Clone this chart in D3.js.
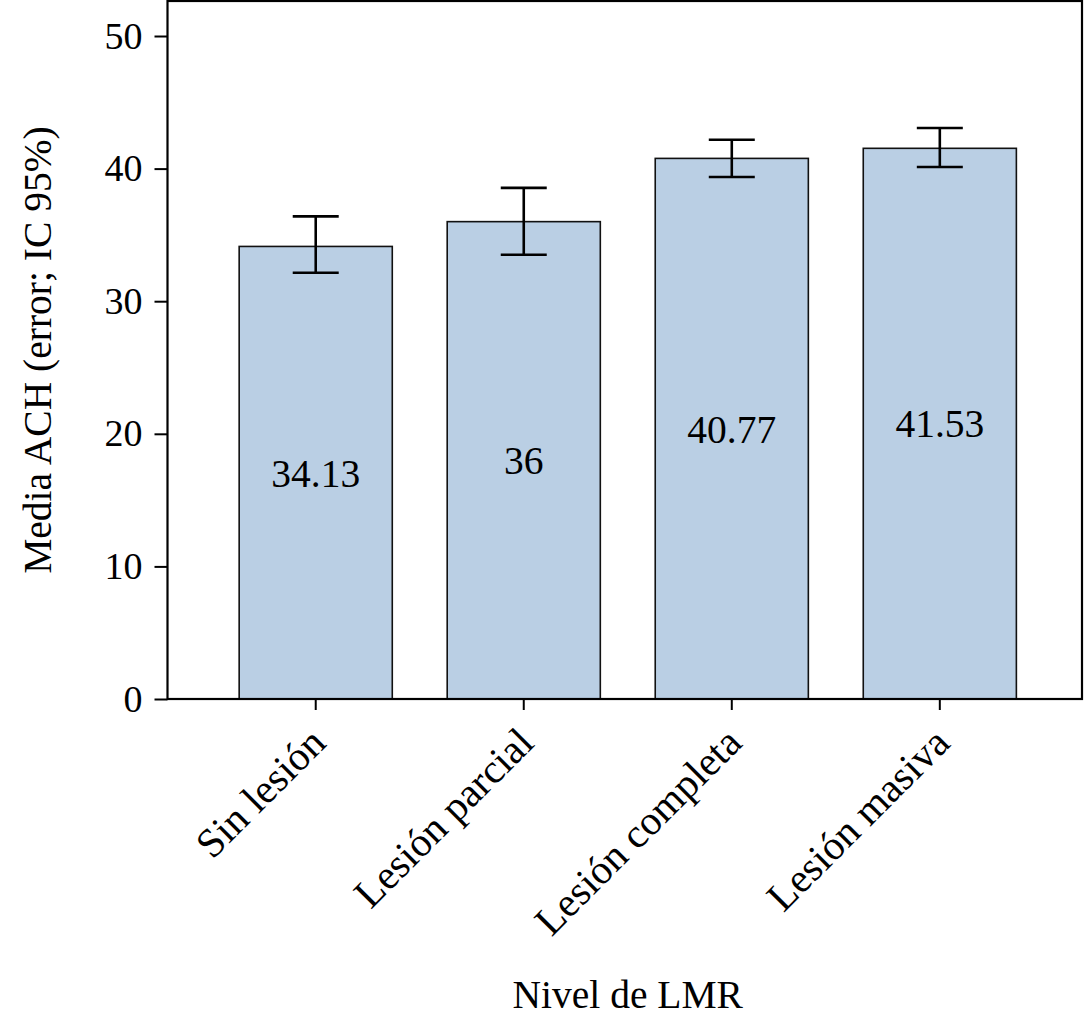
<!DOCTYPE html>
<html>
<head>
<meta charset="utf-8">
<script src="https://cdnjs.cloudflare.com/ajax/libs/d3/7.8.5/d3.min.js"></script>
<style>
  body { margin: 0; background: #fff; }
  text { font-family: "Liberation Serif", "Times New Roman", serif; fill: #000; }
</style>
</head>
<body>
<svg width="1085" height="1024"></svg>
<script>
let svg = d3.select("svg");

// data
let categories = ["Sin lesión", "Lesión parcial", "Lesión completa", "Lesión masiva"];
let means = [34.13, 36, 40.77, 41.53];
let lower = [32.15, 33.5, 39.37, 40.12];
let upper = [36.4, 38.55, 42.18, 43.06];
let yTicks = [0, 10, 20, 30, 40, 50];

let plotLeft = 167.5, plotRight = 1082, plotTop = 1, plotBottom = 699;

let x = d3.scaleBand()
  .domain(categories)
  .range([plotLeft, plotRight])
  .paddingInner(0.264)
  .paddingOuter(0.33)
  .align(0.522);

let y = d3.scaleLinear().domain([0, 52.64]).range([plotBottom, plotTop]);

//bars
svg.selectAll("rect.bar")
  .data(categories)
  .enter()
  .append("rect")
  .attr("class", "bar")
  .attr("x", d => x(d))
  .attr("width", x.bandwidth())
  .attr("y", (d, i) => y(means[i]))
  .attr("height", (d, i) => y(0) - y(means[i]))
  .attr("fill", "#bacfe4")
  .attr("stroke", "#111")
  .attr("stroke-width", 1.6);

//value labels
svg.selectAll("text.val")
  .data(categories)
  .enter()
  .append("text")
  .attr("class", "val")
  .attr("x", d => x(d) + x.bandwidth() / 2)
  .attr("y", (d, i) => (y(means[i]) + y(0)) / 2)
  .attr("dy", "0.35em")
  .attr("text-anchor", "middle")
  .style("font-size", "39.5px")
  .text((d, i) => means[i]);

//error bars
let cap = 23;
let err = svg.append("g").attr("stroke", "#000").attr("stroke-width", 2.6);
categories.forEach((c, i) => {
  let cx = x(c) + x.bandwidth() / 2;
  err.append("line").attr("x1", cx).attr("x2", cx).attr("y1", y(lower[i])).attr("y2", y(upper[i]));
  err.append("line").attr("x1", cx - cap).attr("x2", cx + cap).attr("y1", y(upper[i])).attr("y2", y(upper[i]));
  err.append("line").attr("x1", cx - cap).attr("x2", cx + cap).attr("y1", y(lower[i])).attr("y2", y(lower[i]));
});

//y axis
let yAxis = svg.append("g")
  .attr("transform", "translate(" + plotLeft + ",0)")
  .call(d3.axisLeft(y).tickValues(yTicks).tickSize(13).tickPadding(12));
yAxis.select(".domain").remove();
yAxis.selectAll("line").attr("stroke", "#000").attr("stroke-width", 2);
yAxis.selectAll("text").style("font-size", "38px").attr("fill", "#000");

//x axis ticks
let xAxis = svg.append("g")
  .attr("transform", "translate(0," + plotBottom + ")")
  .call(d3.axisBottom(x).tickSize(11).tickFormat(""));
xAxis.select(".domain").remove();
xAxis.selectAll("line").attr("stroke", "#000").attr("stroke-width", 2);

svg.selectAll("text.xlab")
  .data(categories)
  .enter()
  .append("text")
  .attr("class", "xlab")
  .attr("text-anchor", "end")
  .style("font-size", "41px")
  .attr("transform", d => "translate(" + (x(d) + x.bandwidth() / 2 + 12) + "," + (plotBottom + 46) + ") rotate(-45)")
  .text(d => d);

//frame
svg.append("rect")
  .attr("x", plotLeft)
  .attr("y", plotTop)
  .attr("width", plotRight - plotLeft)
  .attr("height", plotBottom - plotTop)
  .attr("fill", "none")
  .attr("stroke", "#000")
  .attr("stroke-width", 2.2);

//titles
svg.append("text")
  .attr("transform", "translate(51," + (plotTop + plotBottom) / 2 + ") rotate(-90)")
  .attr("text-anchor", "middle")
  .style("font-size", "39.5px")
  .text("Media ACH (error; IC 95%)");

svg.append("text")
  .attr("x", (plotLeft + plotRight) / 2 + 3)
  .attr("y", 1008)
  .attr("text-anchor", "middle")
  .style("font-size", "39.5px")
  .text("Nivel de LMR");
</script>
</body>
</html>
